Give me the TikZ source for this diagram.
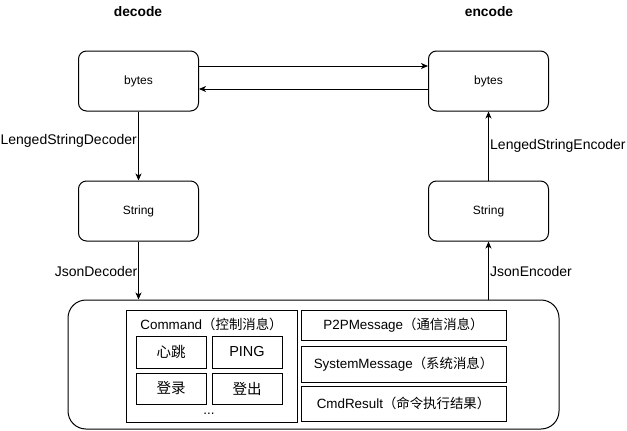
\documentclass[tikz,border=0pt]{standalone}
\usepackage{fontspec}
\setmainfont{Liberation Sans}
\newfontfamily\cjk{Noto Sans CJK SC}
\newcommand\zh[1]{{\cjk #1}}
\usetikzlibrary{arrows.meta}
\begin{document}
\begin{tikzpicture}[x=1pt,y=-1pt,
  title/.style={font=\fontsize{13.8}{16}\selectfont\bfseries, inner sep=0},
  rbox/.style={draw, line width=1pt, rounded corners=8pt, minimum width=120pt, minimum height=60pt, inner sep=0, font=\fontsize{12}{14}\selectfont},
  bigbox/.style={draw, line width=1pt, rounded corners=18pt, inner sep=0},
  sbox/.style={draw, line width=0.9pt, inner sep=0, font=\fontsize{13.4}{15}\selectfont},
  subbox/.style={draw, line width=0.9pt, inner sep=0, minimum width=70pt, font=\fontsize{14.5}{16}\selectfont},
  txt/.style={inner sep=0, font=\fontsize{13.4}{15}\selectfont},
  lab/.style={font=\fontsize{14}{16}\selectfont, inner sep=0},
  arr/.style={line width=1pt, -{Stealth[length=7pt,width=6pt,inset=2pt]}}
]
\useasboundingbox (0,0) rectangle (627,431);
\node[title] (tdec) at (138,12) {decode};
\node[title] (tenc) at (489,12) {encode};
\node[rbox] (lb) at (138.5,81) {bytes};
\node[rbox] (rb) at (488.5,81) {bytes};
\node[rbox] (ls) at (138.5,211) {String};
\node[rbox] (rs) at (488.5,211) {String};
\node[bigbox, minimum width=491pt, minimum height=129pt] (big) at (313.5,364.5) {};
\node[sbox, minimum width=171pt, minimum height=112pt] (cmd) at (211.5,366) {};
\node[txt] (cmdt) at (211.5,324) {Command\zh{（控制消息）}};
\node[subbox, minimum height=32pt] (hb) at (171,352) {\zh{心跳}};
\node[subbox, minimum height=32pt] (ping) at (247,352) {PING};
\node[subbox, minimum height=31pt] (login) at (171,388.5) {\zh{登录}};
\node[subbox, minimum height=31pt] (logout) at (247,388.5) {\zh{登出}};
\node[txt, anchor=base] (dots) at (209,414) {...};
\node[sbox, minimum width=205pt, minimum height=30pt] (p2p) at (403.5,325) {P2PMessage\zh{（通信消息）}};
\node[sbox, minimum width=205pt, minimum height=36pt] (sys) at (403.5,364) {SystemMessage\zh{（系统消息）}};
\node[sbox, minimum width=205pt, minimum height=35pt] (res) at (403.5,403.5) {CmdResult\zh{（命令执行结果）}};
\draw[arr] ([yshift=15pt]lb.east) -- ([yshift=15pt]rb.west);
\draw[arr] ([yshift=-8pt]rb.west) -- ([yshift=-8pt]lb.east);
\draw[arr] (lb.south) -- (ls.north);
\draw[arr] (ls.south) -- (ls.south |- big.north);
\draw[arr] (rs.south |- big.north) -- (rs.south);
\draw[arr] (rs.north) -- (rb.south);
\node[lab, anchor=east] (l1) at (137,141) {LengedStringDecoder};
\node[lab, anchor=west] (l2) at (490,146) {LengedStringEncoder};
\node[lab, anchor=east] (l3) at (137.5,271) {JsonDecoder};
\node[lab, anchor=west] (l4) at (490,271) {JsonEncoder};
\end{tikzpicture}
\end{document}
